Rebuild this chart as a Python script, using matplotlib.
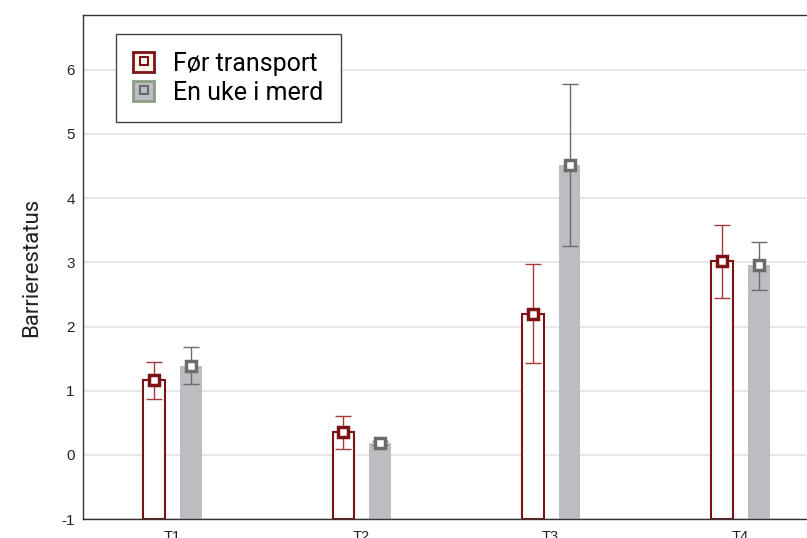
import numpy as np
import matplotlib.pyplot as plt
from matplotlib.patches import Rectangle
from matplotlib.lines import Line2D
from matplotlib.legend_handler import HandlerTuple

grupper = ['T1', 'T2', 'T3', 'T4']
for_transport = [1.17, 0.36, 2.20, 3.02]
for_lav = [0.87, 0.09, 1.43, 2.44]
for_hoy = [1.44, 0.61, 2.97, 3.58]
en_uke = [1.39, 0.19, 4.51, 2.96]
uke_lav = [1.10, 0.15, 3.25, 2.57]
uke_hoy = [1.68, 0.22, 5.77, 3.32]

rod = '#7d1216'
rod_feil = '#a8393c'
gra = '#bcbdc1'
gra_kant = '#6b6b6b'
bunn = -1

plt.rcParams['axes.unicode_minus'] = False

fig = plt.figure(figsize=(8.07, 5.38), dpi=100)
ax = fig.add_axes([0.103, 0.035, 0.896, 0.937])

x = np.arange(len(grupper))
off = 0.1
w = 0.115

ax.bar(x - off + 0.005, np.array(for_transport) - bunn, w, bottom=bunn, facecolor='white',
       edgecolor=rod, linewidth=1.5, zorder=2)
ax.bar(x + off, np.array(en_uke) - bunn, w, bottom=bunn, color=gra, zorder=2)

ax.errorbar(x - off + 0.005, for_transport,
            yerr=[np.array(for_transport) - for_lav, np.array(for_hoy) - for_transport],
            fmt='none', ecolor=rod_feil, elinewidth=1, capsize=6, capthick=1, zorder=3)
ax.errorbar(x + off, en_uke,
            yerr=[np.array(en_uke) - uke_lav, np.array(uke_hoy) - en_uke],
            fmt='none', ecolor=gra_kant, elinewidth=1, capsize=6, capthick=1, zorder=3)
ax.plot(x - off + 0.005, for_transport, 's', ms=6.5, mfc='white', mec=rod, mew=2.5, zorder=4)
ax.plot(x + off, en_uke, 's', ms=6.5, mfc='white', mec=gra_kant, mew=2.5, zorder=4)

ax.set_xlim(-0.47, 3.35)
ax.set_ylim(-1, 6.85)
ax.set_yticks(range(-1, 7))
ax.set_xticks(x)
ax.set_xticklabels(grupper)
ax.yaxis.grid(True, color='#e3e3e3', linewidth=1.2, zorder=0)
ax.set_axisbelow(True)
ax.tick_params(axis='x', labelsize=10.5, length=0, pad=8)
ax.tick_params(axis='y', labelsize=11, length=0, pad=6)
for lab in ax.get_xticklabels() + ax.get_yticklabels():
    lab.set_family('Liberation Sans')
    lab.set_color('#222222')
for s in ['left', 'top', 'bottom', 'right']:
    ax.spines[s].set_color('#333333')
    ax.spines[s].set_linewidth(1)
ax.spines['right'].set_visible(False)

ax.set_ylabel('Barrierestatus', fontsize=16, family='Roboto', labelpad=14, color='#222222')

h1 = (Rectangle((0, 0), 1, 1, facecolor='#fdf8ec', edgecolor=rod, linewidth=2),
      Line2D([], [], marker='s', ls='', ms=5.5, mfc='white', mec=rod, mew=1.5))
h2 = (Rectangle((0, 0), 1, 1, facecolor=gra, edgecolor='#8a9e82', linewidth=2),
      Line2D([], [], marker='s', ls='', ms=5.5, mfc=gra, mec=gra_kant, mew=1.5))
leg = ax.legend([h1, h2], ['Før transport', 'En uke i merd'],
                handler_map={tuple: HandlerTuple(ndivide=1, pad=0)},
                loc='upper left', bbox_to_anchor=(0.045, 0.962),
                prop={'family': 'Roboto', 'size': 18}, fancybox=False,
                edgecolor='#444444', framealpha=1, handlelength=0.85, handleheight=0.85,
                handletextpad=0.75, borderpad=0.7, labelspacing=0.2, borderaxespad=0)
leg.get_frame().set_linewidth(1)

fig.savefig('out.png', dpi=100)
